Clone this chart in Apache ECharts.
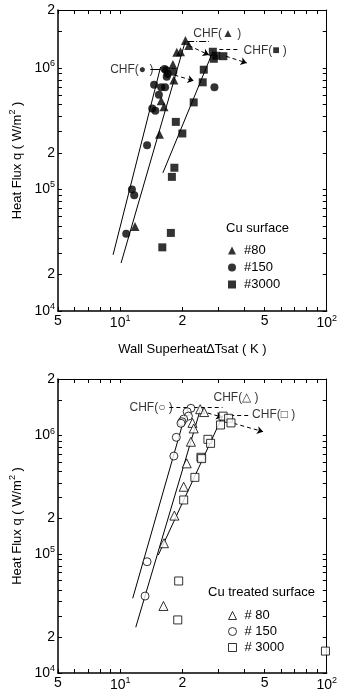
<!DOCTYPE html>
<html>
<head>
<meta charset="utf-8">
<script src="https://cdn.jsdelivr.net/npm/echarts@6/dist/echarts.min.js"></script>
<style>
html, body { margin: 0; padding: 0; background: #fff; }
#chart { width: 340px; height: 697px; }
</style>
</head>
<body>
<div id="chart"></div>
<script>
// tick positions / labels
var xTicks = [5, 6, 7, 8, 9, 10, 20, 30, 40, 50, 60, 70, 80, 90, 100];
var xLabelVals = [5, 10, 20, 50, 100];
var xLabelText = ['5', '10{s|1}', '2', '5', '10{s|2}'];
var yTicks = [1e4, 2e4, 3e4, 4e4, 5e4, 6e4, 7e4, 8e4, 9e4,
              1e5, 2e5, 3e5, 4e5, 5e5, 6e5, 7e5, 8e5, 9e5,
              1e6, 2e6, 3e6];
var yLabelVals = [1e4, 2e4, 1e5, 2e5, 1e6, 3e6];
var yLabelText = ['10{s|4}', '2', '10{s|5}', '2', '10{s|6}', '2'];

// Cu surface (wall superheat K, heat flux W/m2)
var cu80 = [[20.7, 1.68e6], [21.5, 1.53e6], [18.8, 1.35e6], [19.6, 1.36e6], [18.0, 1.07e6],
            [18.2, 7.96e5], [15.8, 5.37e5], [16.3, 4.79e5], [15.5, 2.85e5], [11.8, 4.97e4]];
var cu150 = [[16.4, 9.81e5], [16.7, 9.6e5], [17.0, 8.92e5], [16.8, 8.47e5], [18.1, 9.32e5],
             [14.6, 7.28e5], [15.8, 6.93e5], [16.5, 6.93e5], [15.4, 6.02e5], [14.3, 4.65e5],
             [14.8, 4.44e5], [28.6, 6.93e5], [13.5, 2.31e5], [11.4, 1.0e5], [11.7, 8.97e4],
             [10.7, 4.33e4]];
var cu3000 = [[28.1, 1.36e6], [29.2, 1.26e6], [31.6, 1.25e6], [28.4, 1.19e6], [25.4, 9.68e5],
              [25.1, 7.62e5], [22.7, 5.21e5], [18.6, 3.6e5], [20.0, 2.89e5], [18.3, 1.51e5],
              [17.8, 1.27e5], [17.6, 4.39e4], [16.0, 3.34e4]];
var fit80 = [[10.1, 2.48e4], [20.7, 1.67e6]];
var fit150 = [[9.24, 2.9e4], [15.7, 1.02e6]];
var fit3000 = [[16.1, 1.37e5], [28.1, 1.36e6]];

// Cu treated surface
var tr80 = [[24.4, 1.67e6], [25.5, 1.58e6], [22.4, 1.28e6], [22.7, 1.15e6], [22.0, 8.88e5],
            [21.0, 5.84e5], [20.3, 3.71e5], [18.3, 2.12e5], [16.3, 1.24e5], [16.2, 3.67e4]];
var tr150 = [[22.0, 1.70e6], [21.1, 1.59e6], [21.4, 1.46e6], [20.3, 1.38e6], [19.9, 1.31e6],
             [19.7, 1.27e6], [18.7, 9.68e5], [18.2, 6.73e5], [13.5, 8.66e4], [13.2, 4.45e4]];
var tr3000 = [[31.5, 1.46e6], [33.5, 1.40e6], [34.4, 1.28e6], [30.6, 1.23e6], [26.6, 9.31e5],
              [27.4, 8.61e5], [24.6, 6.57e5], [24.8, 6.4e5], [23.0, 4.45e5], [20.3, 2.87e5],
              [19.2, 5.96e4], [19.0, 2.80e4], [98.6, 1.53e4]];
var fitT80 = [[11.9, 2.43e4], [24.4, 1.64e6]];
var fitT150 = [[11.5, 4.26e4], [20.1, 1.27e6]];
var fitT3000 = [[15.3, 9.87e4], [31.5, 1.49e6]];

// CHF notes: text anchors and leader/arrow segments
var noteTop = [[22.6, 1.91e6, 'CHF(▲ )'], [39.6, 1.38e6, 'CHF(■ )'], [8.95, 9.68e5, 'CHF(● )']];
var leaderTop = [
    [[21.1, 1.65e6], [26.9, 1.65e6], 'dashdot', 'none'],
    [[30.2, 1.42e6], [37.8, 1.42e6], 'dashed', 'none'],
    [[14.0, 9.81e5], [15.7, 9.81e5], 'solid', 'none'],
    [[21.5, 1.53e6], [26.9, 1.28e6], 'dashed', 'arrow'],
    [[32.5, 1.25e6], [41.0, 1.10e6], 'dashed', 'arrow'],
    [[18.3, 8.75e5], [22.7, 7.85e5], 'dashed', 'arrow']
];
var noteBot = [[11.1, 1.71e6, 'CHF(○ )'], [28.3, 2.07e6, 'CHF(△ )'], [43.5, 1.49e6, 'CHF(□ )']];
var leaderBot = [
    [[17.3, 1.72e6], [21.3, 1.72e6], 'dashed', 'none'],
    [[22.7, 1.72e6], [31.3, 1.72e6], 'dashed', 'none'],
    [[34.1, 1.49e6], [42.0, 1.49e6], 'dashed', 'none'],
    [[24.6, 1.61e6], [31.2, 1.43e6], 'dashed', 'arrow'],
    [[35.4, 1.27e6], [49.2, 1.08e6], 'dashed', 'arrow']
];

var FONT = '"Liberation Sans", Arial, sans-serif';
var supRich = {
    s: { fontSize: 9, fontFamily: FONT, color: '#000', padding: [0, 0, 9, 0] }
};

var pickLabel = function(vals, texts) {
    return function(v) {
        for (var i = 0; i < vals.length; i++) {
            if (Math.abs(v - vals[i]) < vals[i] * 1e-6) return texts[i];
        }
        return '';
    };
};

var lineType = function(t) {
    if (t === 'dashdot') return [7, 2, 1, 2];
    if (t === 'dashed') return [4, 3];
    return 'solid';
};

var makeX = function(g, pos, withName) {
    var ax = {
        type: 'log',
        gridIndex: g,
        position: pos,
        min: 5,
        max: 100,
        axisLine: { show: true, onZero: false, lineStyle: { color: '#000', width: pos === 'bottom' ? 1.5 : 1 } },
        axisTick: { show: true, inside: true, length: 4, customValues: xTicks, lineStyle: { color: '#000' } },
        axisLabel: {
            show: pos === 'bottom',
            customValues: xLabelVals,
            formatter: pickLabel(xLabelVals, xLabelText),
            margin: 3,
            color: '#000',
            fontSize: 14,
            fontFamily: FONT,
            rich: supRich
        },
        splitLine: { show: false }
    };
    if (withName) {
        ax.name = 'Wall Superheat∆Tsat ( K )';
        ax.nameLocation = 'middle';
        ax.nameGap = 32;
        ax.nameTextStyle = { fontSize: 13, fontFamily: FONT, color: '#000' };
    }
    return ax;
};

var makeY = function(g, pos, gap) {
    var ax = {
        type: 'log',
        gridIndex: g,
        position: pos,
        min: 1e4,
        max: 3e6,
        axisLine: { show: true, onZero: false, lineStyle: { color: '#000', width: pos === 'left' ? 1.5 : 1 } },
        axisTick: { show: true, inside: true, length: 4, customValues: yTicks, lineStyle: { color: '#000' } },
        axisLabel: {
            show: pos === 'left',
            customValues: yLabelVals,
            formatter: pickLabel(yLabelVals, yLabelText),
            margin: 3,
            color: '#000',
            fontSize: 14,
            fontFamily: FONT,
            rich: supRich
        },
        splitLine: { show: false }
    };
    if (pos === 'left') {
        ax.name = 'Heat Flux q ( W/m{s|2} )';
        ax.nameLocation = 'middle';
        ax.nameRotate = 90;
        ax.nameGap = gap;
        ax.nameTextStyle = { fontSize: 13, fontFamily: FONT, color: '#000', rich: supRich };
    }
    return ax;
};

var scatter = function(name, g, symbol, size, data, hollow) {
    return {
        name: name,
        type: 'scatter',
        xAxisIndex: g * 2,
        yAxisIndex: g * 2,
        symbol: symbol,
        symbolSize: size,
        itemStyle: hollow ? { color: '#fff', borderColor: '#000', borderWidth: 1 } : { color: '#000' },
        z: 5,
        data: data
    };
};

var fitLine = function(g, data) {
    return {
        type: 'line',
        xAxisIndex: g * 2,
        yAxisIndex: g * 2,
        symbol: 'none',
        silent: true,
        lineStyle: { color: '#000', width: 1 },
        z: 3,
        data: data
    };
};

var notes = function(g, texts, segs) {
    return {
        type: 'scatter',
        xAxisIndex: g * 2,
        yAxisIndex: g * 2,
        symbolSize: 0,
        silent: true,
        label: {
            show: true,
            position: 'right',
            distance: 0,
            color: '#000',
            fontSize: 12,
            fontFamily: FONT,
            formatter: function(p) { return p.value[2]; }
        },
        data: texts,
        markLine: {
            silent: true,
            symbolSize: 6,
            label: { show: false },
            data: segs.map(function(s) {
                return [
                    { coord: s[0], symbol: 'none', lineStyle: { color: '#000', width: 1, type: lineType(s[2]) } },
                    { coord: s[1], symbol: s[3] }
                ];
            })
        }
    };
};

var legendText = { fontSize: 13, fontFamily: FONT, color: '#000', padding: [0, 0, 0, 3] };

var chart = echarts.init(document.getElementById('chart'));
chart.setOption({
    backgroundColor: '#fff',
    animation: false,
    title: [
        { text: 'Cu surface', left: 226, top: 222, padding: 0,
          textStyle: { fontSize: 13, fontWeight: 'normal', fontFamily: FONT, color: '#000' } },
        { text: 'Cu treated surface', left: 208, top: 586, padding: 0,
          textStyle: { fontSize: 13, fontWeight: 'normal', fontFamily: FONT, color: '#000' } }
    ],
    legend: [
        { data: ['#80', '#150', '#3000'], left: 228, top: 244, orient: 'vertical', padding: 0,
          itemWidth: 8, itemHeight: 8, itemGap: 4, selectedMode: false,
          textStyle: legendText },
        { data: ['# 80', '# 150', '# 3000'], left: 228, top: 609, orient: 'vertical', padding: 0,
          itemWidth: 8, itemHeight: 8, itemGap: 3, selectedMode: false,
          itemStyle: { borderWidth: 1 },
          textStyle: legendText }
    ],
    grid: [
        { left: 53, top: 10, width: 278, height: 301 },
        { left: 55, top: 379, width: 273, height: 294 }
    ],
    xAxis: [makeX(0, 'bottom', true), makeX(0, 'top', false), makeX(1, 'bottom', false), makeX(1, 'top', false)],
    yAxis: [makeY(0, 'left', 30), makeY(0, 'right'), makeY(1, 'left', 32), makeY(1, 'right')],
    series: [
        fitLine(0, fit80), fitLine(0, fit150), fitLine(0, fit3000),
        scatter('#80', 0, 'triangle', 9, cu80, false),
        scatter('#150', 0, 'circle', 8, cu150, false),
        scatter('#3000', 0, 'rect', 8, cu3000, false),
        notes(0, noteTop, leaderTop),
        fitLine(1, fitT80), fitLine(1, fitT150), fitLine(1, fitT3000),
        scatter('# 80', 1, 'triangle', 9, tr80, true),
        scatter('# 150', 1, 'circle', 8, tr150, true),
        scatter('# 3000', 1, 'rect', 8, tr3000, true),
        notes(1, noteBot, leaderBot)
    ]
});
</script>
</body>
</html>
